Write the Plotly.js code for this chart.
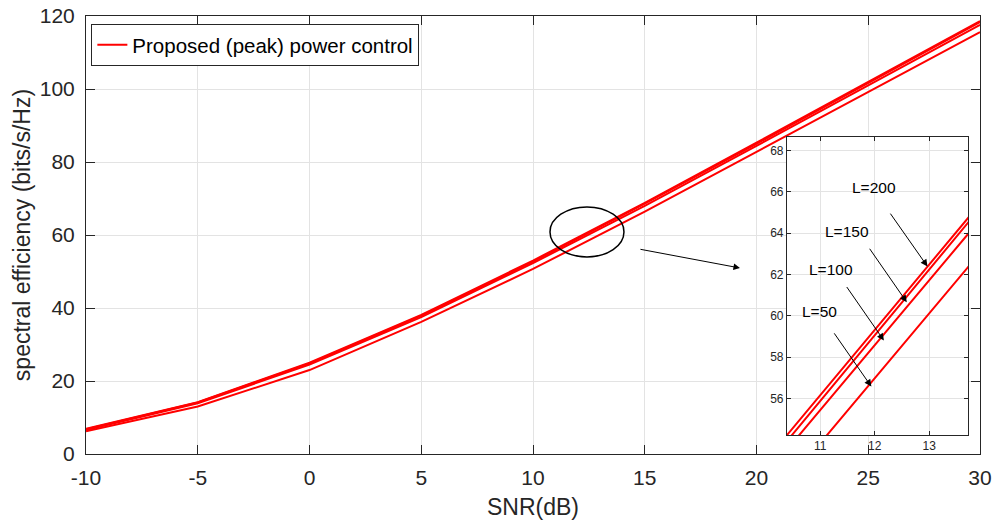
<!DOCTYPE html>
<html>
<head>
<meta charset="utf-8">
<script src="https://cdn.plot.ly/plotly-3.0.1.min.js"></script>
<style>html,body{margin:0;padding:0;background:#fff}</style>
</head>
<body>
<div id="chart" style="width:997px;height:529px"></div>
<script>
// SNR (dB) sample points
const snr = [-10, -5, 0, 5, 10, 15, 20, 25, 30];
// spectral efficiency (bits/s/Hz) for each number of antennas L
const seL200 = [6.9, 14.2, 25.0, 38.1, 53.0, 68.8, 85.3, 101.9, 118.6];
const seL150 = [6.8, 14.1, 24.8, 37.9, 52.7, 68.6, 85.0, 101.6, 118.3];
const seL100 = [6.6, 13.9, 24.5, 37.5, 52.3, 68.0, 84.4, 101.0, 117.6];
const seL50  = [6.2, 13.0, 23.0, 36.2, 50.7, 66.4, 82.8, 99.2, 115.6];
const seriesNames = ['L=200', 'L=150', 'L=100', 'L=50'];
const legendLabel = 'Proposed (peak) power control';
const xTicks = [-10, -5, 0, 5, 10, 15, 20, 25, 30];
const xTickText = ['-10', '-5', '0', '5', '10', '15', '20', '25', '30'];
const yTicks = [0, 20, 40, 60, 80, 100, 120];
const insetXTicks = [11, 12, 13];
const insetYTicks = [56, 58, 60, 62, 64, 66, 68];

const allSeries = [seL200, seL150, seL100, seL50];
const red = '#ff0000';
const axisCol = '#262626';
const gridCol = '#e3e3e3';
const font = 'Liberation Sans, Arial, sans-serif';

const traces = [];
allSeries.forEach((ys, i) => {
  traces.push({
    x: snr, y: ys, type: 'scatter', mode: 'lines',
    name: i === 0 ? legendLabel : seriesNames[i],
    showlegend: i === 0,
    line: {color: red, width: 2},
    xaxis: 'x', yaxis: 'y', hoverinfo: 'skip'
  });
});
allSeries.forEach((ys, i) => {
  traces.push({
    x: snr, y: ys, type: 'scatter', mode: 'lines',
    name: seriesNames[i], showlegend: false,
    line: {color: red, width: 2},
    xaxis: 'x2', yaxis: 'y2', hoverinfo: 'skip'
  });
});

// inset label annotations: [text, x, y, tailX, tailY, headX, headY]
const insetNotes = [
  ['L=200', 11.99, 66.19, 12.27, 65.02, 12.97, 62.39],
  ['L=150', 11.49, 64.08, 11.89, 63.32, 12.59, 60.66],
  ['L=100', 11.20, 62.23, 11.47, 61.47, 12.17, 58.81],
  ['L=50',  10.98, 60.21, 11.24, 59.23, 11.94, 56.58]
];
const annotations = [];
insetNotes.forEach(n => {
  annotations.push({
    text: n[0], x: n[1], y: n[2], xref: 'x2', yref: 'y2',
    showarrow: false, font: {family: font, size: 15.5, color: '#000'}
  });
  annotations.push({
    text: '', x: n[5], y: n[6], xref: 'x2', yref: 'y2',
    ax: n[3], ay: n[4], axref: 'x2', ayref: 'y2',
    showarrow: true, arrowhead: 2, arrowsize: 1.4, arrowwidth: 1, arrowcolor: '#000'
  });
});
// main pointer arrow from ellipse to inset
annotations.push({
  text: '', x: 19.26, y: 50.96, xref: 'x', yref: 'y',
  ax: 14.74, ay: 56.16, axref: 'x', ayref: 'y',
  showarrow: true, arrowhead: 2, arrowsize: 1.3, arrowwidth: 1, arrowcolor: '#000'
});

const layout = {
  width: 997, height: 529,
  margin: {l: 86, r: 17, t: 16, b: 75},
  paper_bgcolor: '#fff', plot_bgcolor: '#fff',
  font: {family: font, color: axisCol},
  showlegend: true,
  legend: {
    x: 0.006, y: 0.982, xanchor: 'left', yanchor: 'top',
    bgcolor: '#fff', bordercolor: axisCol, borderwidth: 1,
    font: {family: font, size: 20.5, color: '#000'},
    itemwidth: 30, tracegroupgap: 0
  },
  xaxis: {
    domain: [0, 1], range: [-10, 30], tickvals: xTicks, ticktext: xTickText,
    ticks: 'inside', ticklen: 9, tickcolor: axisCol, mirror: 'ticks',
    showline: true, linecolor: axisCol, linewidth: 1,
    showgrid: true, gridcolor: gridCol, zeroline: false,
    ticklabelstandoff: 5,
    tickfont: {family: font, size: 21, color: axisCol},
    title: {text: 'SNR(dB)', font: {family: font, size: 23, color: axisCol}, standoff: 10}
  },
  yaxis: {
    domain: [0, 1], range: [0, 120], tickvals: yTicks,
    ticks: 'inside', ticklen: 9, tickcolor: axisCol, mirror: 'ticks',
    showline: true, linecolor: axisCol, linewidth: 1,
    showgrid: true, gridcolor: gridCol, zeroline: false,
    ticklabelstandoff: 6,
    tickfont: {family: font, size: 21, color: axisCol},
    title: {text: 'spectral efficiency (bits/s/Hz)', font: {family: font, size: 23, color: axisCol}, standoff: 2}
  },
  xaxis2: {
    domain: [0.784, 0.987], anchor: 'y2', range: [10.39, 13.72], tickvals: insetXTicks,
    ticks: 'inside', ticklen: 4, tickcolor: axisCol, mirror: 'ticks',
    showline: true, linecolor: axisCol, linewidth: 1,
    showgrid: true, gridcolor: gridCol, zeroline: false,
    tickfont: {family: font, size: 12, color: axisCol}
  },
  yaxis2: {
    domain: [0.0434, 0.724], anchor: 'x2', range: [54.24, 68.66], tickvals: insetYTicks,
    ticks: 'inside', ticklen: 4, tickcolor: axisCol, mirror: 'ticks',
    showline: true, linecolor: axisCol, linewidth: 1,
    showgrid: true, gridcolor: gridCol, zeroline: false,
    tickfont: {family: font, size: 12, color: axisCol}
  },
  shapes: [{
    type: 'circle', xref: 'x', yref: 'y',
    x0: 10.76, x1: 14.07, y0: 54.0, y1: 67.7,
    line: {color: '#000', width: 1.5}, fillcolor: 'rgba(0,0,0,0)'
  }],
  annotations: annotations
};

Plotly.newPlot('chart', traces, layout, {displayModeBar: false, staticPlot: true});
</script>
</body>
</html>
